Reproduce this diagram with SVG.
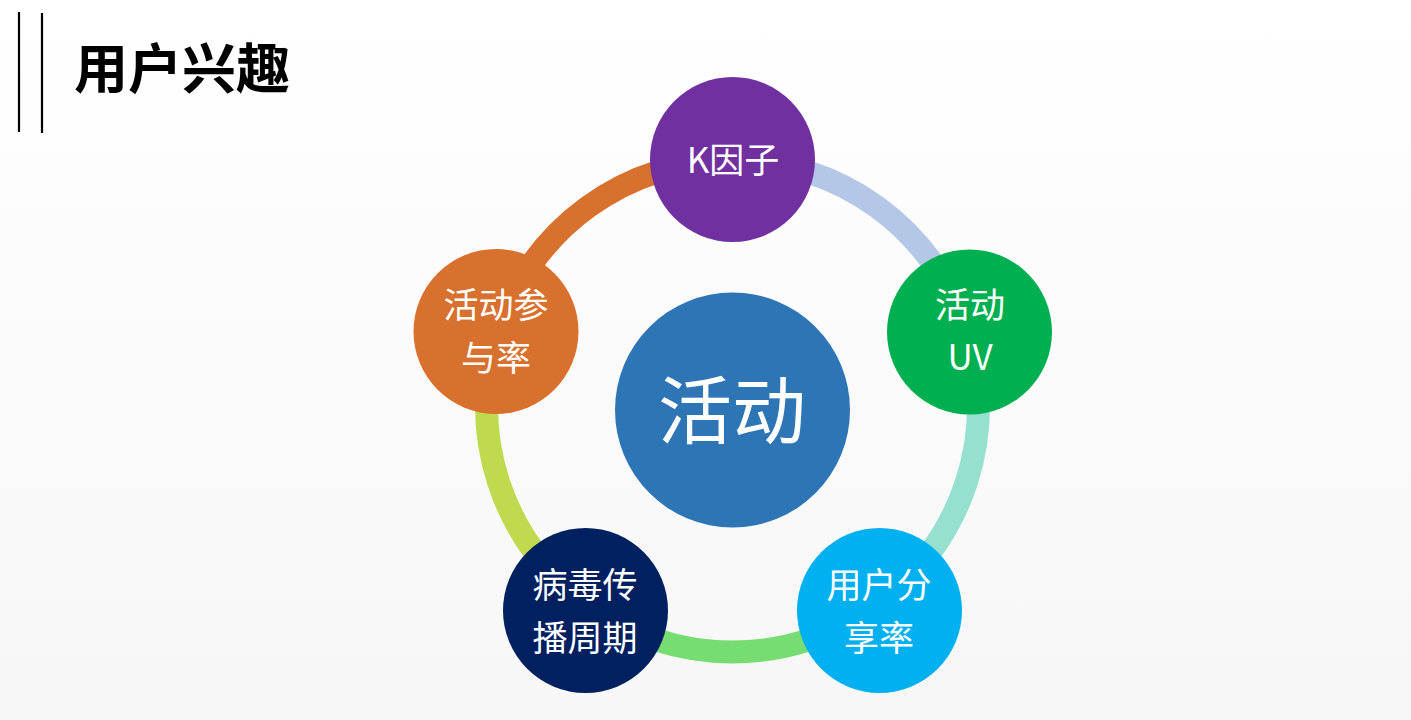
<svg xmlns="http://www.w3.org/2000/svg" width="1411" height="720" viewBox="0 0 1411 720">
<defs>
<linearGradient id="bg" x1="0" y1="0" x2="0" y2="1">
<stop offset="0" stop-color="#ffffff"/>
<stop offset="1" stop-color="#f7f7f7"/>
</linearGradient>
</defs>
<style>
.arc{fill:none;stroke-width:23}
.lbl{font-family:"Microsoft YaHei","Noto Sans CJK SC",sans-serif;fill:#ffffff;text-anchor:middle;font-size:35px}
.title{font-family:"Noto Sans CJK SC",sans-serif;font-weight:bold;font-size:54px;fill:#000}
.bar{stroke:#000;stroke-width:2.2}
</style>
<rect width="1411" height="720" fill="url(#bg)"/>
<g id="title">
<line class="bar" x1="19" y1="12" x2="19" y2="132"/>
<line class="bar" x1="42" y1="13" x2="42" y2="133"/>
<text class="title" x="74" y="89">用户兴趣</text>
</g>
<g id="connectors">
<path class="arc" stroke="#b4c7e7" d="M732.5 160 A246 246 0 0 1 966.5 330"/>
<path class="arc" stroke="#96e0cf" d="M966.5 330 A246 246 0 0 1 877.1 605"/>
<path class="arc" stroke="#77dc72" d="M877.1 605 A246 246 0 0 1 587.9 605"/>
<path class="arc" stroke="#c0da50" d="M587.9 605 A246 246 0 0 1 498.5 330"/>
<path class="arc" stroke="#d9712e" d="M498.5 330 A246 246 0 0 1 732.5 160"/>
</g>
<g id="center">
<circle cx="732.5" cy="410" r="117.5" fill="#2e75b6"/>
<text class="lbl" x="732" y="438" style="font-size:74px">活动</text>
</g>
<g id="k">
<circle cx="732.5" cy="159.5" r="82.5" fill="#7030a0"/>
<text class="lbl" x="733" y="173">K因子</text>
</g>
<g id="uv">
<circle cx="969.5" cy="332" r="82.5" fill="#00b050"/>
<text class="lbl" x="970" y="318">活动</text>
<text class="lbl" x="970" y="370">UV</text>
</g>
<g id="share">
<circle cx="879.5" cy="610.5" r="82.5" fill="#00b0f0"/>
<text class="lbl" x="879" y="598">用户分</text>
<text class="lbl" x="879" y="651">享率</text>
</g>
<g id="virus">
<circle cx="585.5" cy="610.5" r="82.5" fill="#002060"/>
<text class="lbl" x="585" y="598">病毒传</text>
<text class="lbl" x="585" y="651">播周期</text>
</g>
<g id="participation">
<circle cx="496" cy="331.5" r="82.5" fill="#d9712e"/>
<text class="lbl" x="496" y="318">活动参</text>
<text class="lbl" x="496" y="371">与率</text>
</g>
</svg>
